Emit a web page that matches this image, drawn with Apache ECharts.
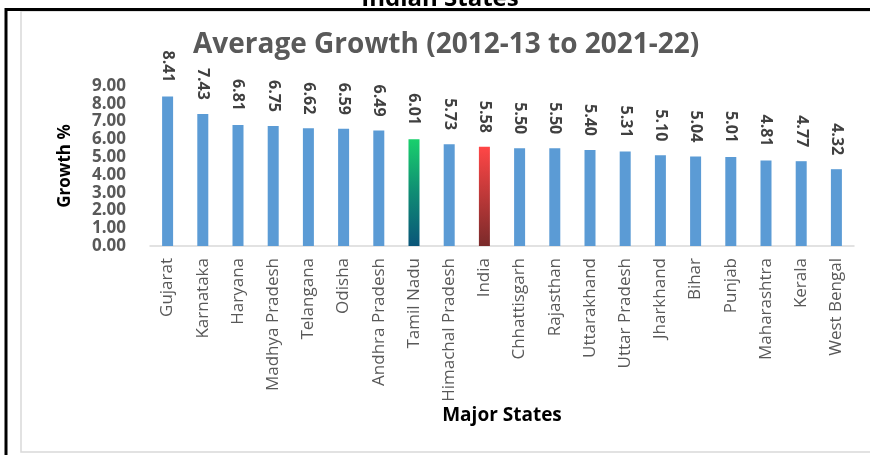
<!DOCTYPE html>
<html>
<head>
<meta charset="utf-8">
<script src="https://cdn.jsdelivr.net/npm/echarts@6/dist/echarts.min.js"></script>
<style>
  html, body { margin: 0; padding: 0; background: #fff; }
  #main { width: 870px; height: 455px; }
</style>
</head>
<body>
<div id="main"></div>
<script>
// data
const states = ['Gujarat', 'Karnataka', 'Haryana', 'Madhya Pradesh', 'Telangana', 'Odisha',
  'Andhra Pradesh', 'Tamil Nadu', 'Himachal Pradesh', 'India', 'Chhattisgarh', 'Rajasthan',
  'Uttarakhand', 'Uttar Pradesh', 'Jharkhand', 'Bihar', 'Punjab', 'Maharashtra', 'Kerala', 'West Bengal']
const growth = [8.41, 7.43, 6.81, 6.75, 6.62, 6.59, 6.49, 6.01, 5.73, 5.58, 5.50, 5.50,
  5.40, 5.31, 5.10, 5.04, 5.01, 4.81, 4.77, 4.32]
const yTicks = [0, 1, 2, 3, 4, 5, 6, 7, 8, 9]

const FONT = '"Open Sans", "Noto Sans", sans-serif'

// special bars
function barColor(name) {
  if (name === 'Tamil Nadu') {
    return new echarts.graphic.LinearGradient(0, 0, 0, 1, [
      { offset: 0, color: '#19d06c' },
      { offset: 0.5, color: '#0f8c74' },
      { offset: 1, color: '#0a5579' }
    ])
  }
  if (name === 'India') {
    return new echarts.graphic.LinearGradient(0, 0, 0, 1, [
      { offset: 0, color: '#ff4646' },
      { offset: 1, color: '#7a2a2a' }
    ])
  }
  return '#5b9bd5'
}

const chart = echarts.init(document.getElementById('main'))

const option = {
  animation: false,
  title: {
    text: 'Average Growth (2012-13 to 2021-22)',
    left: 188,
    top: 26,
    textStyle: { fontFamily: FONT, fontSize: 28, fontWeight: 'bold', color: '#595959' }
  },
  grid: { left: 150, right: 16, top: 86, bottom: 209 },
  xAxis: {
    type: 'category',
    data: states,
    name: 'Major States',
    nameLocation: 'middle',
    nameGap: 158,
    nameTextStyle: { fontFamily: FONT, fontSize: 19, fontWeight: 'bold', color: '#000' },
    axisLine: { lineStyle: { color: '#d9d9d9', width: 1.5 } },
    axisTick: { show: false },
    axisLabel: {
      rotate: 90,
      interval: 0,
      margin: 12,
      fontFamily: FONT,
      fontSize: 17,
      color: '#595959'
    }
  },
  yAxis: {
    type: 'value',
    min: yTicks[0],
    max: yTicks[yTicks.length - 1],
    interval: 1,
    name: 'Growth %',
    nameLocation: 'middle',
    nameGap: 76,
    nameTextStyle: { fontFamily: FONT, fontSize: 17, fontWeight: 'bold', color: '#000' },
    axisLine: { show: false },
    axisTick: { show: false },
    splitLine: { show: false },
    axisLabel: {
      margin: 24,
      fontFamily: FONT,
      fontSize: 17,
      fontWeight: 'bold',
      color: '#595959',
      formatter: v => v.toFixed(2)
    }
  },
  series: [
    {
      type: 'bar',
      barWidth: 11,
      data: growth.map((v, i) => ({ value: v, itemStyle: { color: barColor(states[i]) } })),
      label: {
        show: true,
        position: 'top',
        distance: 14,
        rotate: -90,
        align: 'right',
        verticalAlign: 'middle',
        fontFamily: FONT,
        fontSize: 16,
        fontWeight: 'bold',
        color: '#404040',
        formatter: p => p.value.toFixed(2)
      }
    }
  ],
  graphic: [
    {
      // page heading above, cut off by the frame
      type: 'text',
      z: 1,
      x: 0,
      y: 0,
      style: {
        text: 'Indian States',
        x: 440,
        y: 11,
        align: 'center',
        verticalAlign: 'bottom',
        fontFamily: FONT,
        fontSize: 24,
        fontWeight: 'bold',
        fill: '#000'
      }
    },
    {
      type: 'rect',
      z: 2,
      shape: { x: 21, y: 11, width: 870, height: 441 },
      style: { fill: null, stroke: '#d9d9d9', lineWidth: 1.5 }
    },
    {
      type: 'line',
      z: 4,
      shape: { x1: 5, y1: 9.5, x2: 870, y2: 9.5 },
      style: { stroke: '#000', lineWidth: 3 }
    },
    {
      type: 'line',
      z: 4,
      shape: { x1: 6, y1: 8, x2: 6, y2: 455 },
      style: { stroke: '#000', lineWidth: 3 }
    }
  ]
}

chart.setOption(option)
</script>
</body>
</html>
